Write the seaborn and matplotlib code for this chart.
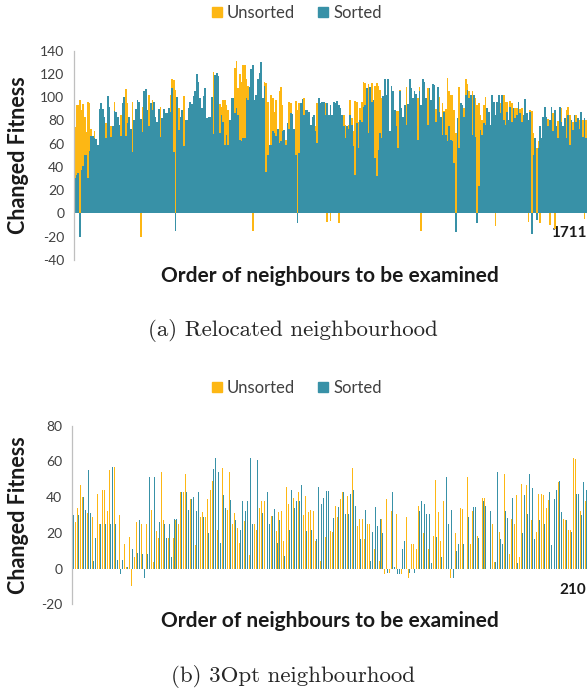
import matplotlib
matplotlib.use('Agg')
import matplotlib.pyplot as plt
from matplotlib.patches import Patch
import seaborn as sns
import pandas as pd

# colours (Excel-like)
UNSORTED_C = '#FDB714'
SORTED_C = '#3891A7'

# ---------- (a) Relocated neighbourhood: 1711 neighbours, read as 311 samples ----------
top_sorted = [
    30.6, 33, 35, -20, 37, 40.6, 50.6, 50.6, 30.6, 54, 67, 67, 65, 64, 59, 90, 95, 90, 83, 65,
    101, 92, 66, 75, 88, 87, 83, 76, 67, 95, 100.6, 67, 77.7, 83, 73, 53, 80.6, 90, 97.7, 96,
    81, 70, 105, 107, 89, 75, 95, 89, 95.7, 83, 79, 90, 66, 82, 90, 86, 86, 91, 87, 108,
    53, -15, 100.6, 72, 83, 89, 57.7, 80.6, 80.6, 90.6, 96, 94, 101, 105, 119.7, 113, 99,
    90.6, 101, 108, 82, 83, 83, 100.6, 68, 119, 121, 118.6, 69, 85, 79, 59, 67.7, 59, 80.6, 99, 99,
    86, 90.6, 85, 63, 62, 65, 65, 99, 97.7, 109, 124, 128, 97.7, 102, 115.7, 121, 130.6, 99, 110, 36,
    50.6, 58.6, 58.6, 70.6, 69, 67, 73, 60.6, 62, 70.6, 72, 58.6, 77.7, 73, 86, 85.4, 73, 50.6, -8, 52,
    95, 98.6, 85, 89, 89, 87.7, 76, 83, 85, 70.6, 60.6, 99, 95, 95.7, 96, 85, 95, 85,
    93.4, 85, 96, 95, 97, 93.4, 91, 85, 75, 65, 75, 73, 85, 76, 57.7, 33, 77.7, 56, 80.6, 79,
    92, 93, 107.7, 69, 109, 96, 97.7, 47.7, 32, 55, 69, 65, 101, 116, 102, 116, 70.6, 110, 105, 89,
    75, 56, 105, 90.6, 83, 93.4, 75.7, 94, 116, 107.7, 99, 105, 103, 63.4, 105, 93.4, 115.7, 113, 99, 76,
    107.7, 97.7, 111, 110.6, 79, 109, 87.7, 83, 67.7, 87.7, 67.7, 62, 75, 63.4, 62, 43.4, -16, 82,
    56, 95, 93.4, 83, 102, 106, 99, 102, 67.7, 102, 66, -8, 23.4, 72, 67.7, 77.7, 76, 90.6, 87.7, 76,
    102, 96, 85, 96, 102, 86, 102, 80.6, 76, 87.7, 80.6, 92, 79, 90.6, 82, 85, 96, 86, 79, 85,
    98.6, 86, 80.6, 87.7, -18, 50.6, 65, -6, 56, 75, 65, 82.6, 92, 83, 75, 80.6, 92, 70.6, 89, 75,
    65, 92, 79, 75, 82, 65, 85, 59, 80.6, 72, 85, 79, 82, 73, 87.7, 66, 82, 65,
]
top_unsorted = [
    74, 93, 93, 98, 89, 94, 83, 70, 95.7, 95, 73, 62, 71, 58, 55, 84, 88, 80, 78, 77.7,
    96, 85, 75, 70, 96, 80, 76, 70, 85, 90, 94, 107, 95, 79, 73, 95.7, 75, 84, 92, 90,
    -20, 92, 100, 99, 84, 102, 90, 97.7, 90, 78, 74, 85, 92, 78, 84, 80, 82, 86, 102, 116,
    115, 106, 95, 90.6, 78, 84, 101, 78, 76, 86, 90, 88, 96, 100, 112, 108, 94,
    85, 96, 102, 80, 78, 78, 96, 122, 113, 116, 112, 94, 92, 97.7, 97.7, 93, 89, 76, 94, 99,
    125, 131, 108, 119.7, 113, 128, 128, 116, 110, 104, 118, -15, 92, 96, 110, 115, 124, 94, 113, 112,
    96, 58, 102, 99.7, 87.7, 97.7, 68, 105, 109, 93, 68, 63, 73, 96, 95, 80, 68, 96.9, 89, 95,
    88, 93, 99, 84, 84, 82, 75, 78, 80, 75, 95, 94, 90, 90, 91, 95, -7, 80,
    -6.6, 82, 91, 90, 92, -8, 86, 80, 85, 76, 70, 76, 97.7, 82, 71, 96.9, 96, 79, 91, 95.7,
    113, 112, 102, 111, 104, 112, 97, 110, 112, 110, 106, 99, 96, 110, 97, 110, 66, 104, 100, 84,
    88, 88, 106, 86, 78, 88, 109, 89, 110, 102, 94, 100, 98, 99, 109, -15, 110, 108, 94, 107.7,
    102, 92, 106, 105, 90, 104, 100.6, 78, 95, 88, 90, 116.9, 105, 102, 102, 89, 69, 77,
    109, 90, 88, 90.6, 115.7, 111, 105, 97, 105, 97, 99, 93.4, 95, 85, 80.6, 93, 100.6, 86, 82, 72,
    97, 91, -10.6, 91, 97, 95, 102, 102, 96, 96, 76, 96.9, 95, 86, 91, 91, 91, 90, 90.6, 80,
    94, 82, -7, 89, 88, 69, 60, 56, 62, -8, 60, 78, 87, 78, 81.4, -10, 87, 86, -13, 70,
    79.7, 87, 90.6, 70, 77, 89, 92, 85, 76, 79, 85, 85, 77, 80.6, 87, 80.6, -5, 80,
]
top_last_label = '1711'

# ---------- (b) 3Opt neighbourhood: 210 neighbours ----------
bot_unsorted = [
    43, 26, 34, 47, 40, 35, 31, 55, 29, 35, 42, 24.7, 44, 44, 32, 55, 55, 57, -3, 30,
    3.5, 14, 1, 17.5, -9.5, 6.5, 26, 51, 25, 33, 25, 32, 33, 3.5, 21, 17, 54, 27, 30, 17,
    27, 17, 27, 25, 43, 43, 53, 47, 39, 32, 13, 20, 29,
    31.6, 29, 39, 44, 49, 29.5, 21.7, 20, 56.5, 62, 33, 54, 25, 31, 22.8, 14.6, 27, 26.6, 44, 7.5,
    35, 24.7, 21.7, 33.7, 37.8, 37.8, 0, 12, 29.5, 29.5, 21.3, 31.6, 32, 15.7, 45.6, 36, 28.4, 39.6, 43, 43,
    0, 30, 40.4, 31.6, 33, 32, 15.7, 0, 4, 4, 17.5, 17.5, 21,
    20.4, 34.8, 29, 39, 42.6, 35.3, 40.4, 56.5, 56.5, 40, 24, 27.9, 27.9, 16.6, 24.7, 24.7, 25, 11, 29, 4.5,
    27.9, -3, 39, -2.6, 32, 38, 30.7, 5, -3, 5, 29, -5, 13.8, 13.8, 11, 34.8, 34.8, 20, 27, 10.8,
    27, 18, 49.7, 31.6, 15.7, 37.8, 0, 0, -5, 8, 20, 51, 33.7,
    33.5, 0, 51, 13.5, 32.5, 28.8, 18, 15.7, 39.6, 39.6, 0, 0, 24.7, 3.5, 20.4, 20.4, 30.7, 53, 45.2, 8.2,
    27.9, 24.7, 41, 6.4, 47.5, 53, 47, 13, 27, 27, 20.4, 42, 42, 41, 34, 38.5, 24, 0, 0, 48.4,
    44, 27.7, 27.3, 21.7, 21.7, 62, 61.5, 37.8, 32, 32, 37.8,
]
bot_sorted = [
    30, 30, 30, 26, 40, 33, 55, 31, 4, 17, 17, 24.7, 16, 25, 40, 25, 57, 25, 5, -3,
    5, 26, 1, 26, 11, 27, 9, 27, 8, -5.5, 8, 51, 34, 51, 15, 26, 25, 25, 17, 25,
    6.5, 28, 28, 24, 43, 47, 43, 33, 39, 40, 32, 43, 15,
    29, 21, 20, 29, 56, 62, 54, 14.6, 41, 34, 30, 38.5, 24, 27, 21.7, 21.7, 37.8, 32, 37.8, 62,
    25, 55, 61, 18.5, 31, 22.8, 42.6, 25, 29.5, 33.5, 14.6, 27, 26.6, 7, 24.7, 21.7, 44, 33.8, 37.8, 37.8,
    46.7, 25, 21.3, 32, 21.7, 28, 16.6, 45.6, 36, 39.6, 43.4, 43.4, 28.4,
    28.4, 32.5, 34.4, 29, 42.6, 30.7, 30.3, 41.5, 43.8, 35, 43.8, 16.6, 22, 33, 32, 4, 20.6, 34.4, 24, 27.9,
    20, 27.9, -2.6, 42.6, 42.6, 1, -3, -3, 11, 15.7, 9.7, -2.6, -2.6, -2.6, 4.5, 32, 38, 36, 30.7, 30.3,
    3.4, 14, 17.5, -9.5, 6.7, 1, 51, 24.7, 33, -5, 10, 14, 20,
    13.8, 13.8, 29, 11, 34.4, 34.4, 17.2, 0, 37.8, 35.3, 49.7, 32.5, 16.6, 3.5, 54, 16.6, 13.5, 32.5, 28.4, 17,
    39.6, 39.6, 3, 19.8, 19.8, 41, 30.7, 53, 45.2, 16.8, 27, 27, 16, 25, 42.6, 42.6, 13, 39, 44, 49,
    31.6, 13, 27, 24, 20.4, 55, 42, 41.5, 30, 48.4, 44,
]
bot_last_label = '210'

sns.set_style('white')
plt.rcParams['font.family'] = ['Lato', 'DejaVu Sans']
plt.rcParams['axes.unicode_minus'] = False

W, H = 587, 695
fig = plt.figure(figsize=(W / 100, H / 100), dpi=100)

# axes placed from pixel measurements of the reference
ax1 = fig.add_axes([74 / W, (H - 260) / H, (587 - 74) / W, (260 - 50.7) / H])
ax2 = fig.add_axes([72 / W, (H - 604.3) / H, (587 - 72) / W, (604.3 - 425.7) / H])

palette = {'Unsorted': UNSORTED_C, 'Sorted': SORTED_C}
order = ['Unsorted', 'Sorted']


def long_frame(unsorted, sorted_):
    n = len(unsorted)
    return pd.DataFrame({
        'pos': list(range(n)) * 2,
        'fitness': list(unsorted) + list(sorted_),
        'order': ['Unsorted'] * n + ['Sorted'] * n,
    })


# (a) overlapping bars, sorted drawn on top of unsorted
df_top = long_frame(top_unsorted, top_sorted)
sns.barplot(data=df_top, x='pos', y='fitness', hue='order', hue_order=order,
            palette=palette, dodge=False, width=1.0, saturation=1,
            errorbar=None, linewidth=0, legend=False, ax=ax1)
for p in ax1.patches:
    p.set_antialiased(False)

# (b) thin side-by-side bars
df_bot = long_frame(bot_unsorted, bot_sorted)
sns.barplot(data=df_bot, x='pos', y='fitness', hue='order', hue_order=order,
            palette=palette, dodge=True, width=0.6, saturation=1,
            errorbar=None, linewidth=0, legend=False, ax=ax2)


def style_axis(ax, n, ylim, yticks, last_label, pad, ylab_xy, xlab_xy):
    ax.set_xlim(-0.5, n - 0.5)
    ax.set_ylim(*ylim)
    ax.set_yticks(yticks)
    ax.set_yticklabels([str(t) for t in yticks])
    sns.despine(ax=ax)
    ax.spines['left'].set_color('#BFBFBF')
    ax.spines['left'].set_linewidth(0.9)
    ax.spines['bottom'].set_position(('data', 0))
    ax.spines['bottom'].set_visible(False)
    ax.tick_params(axis='y', length=4, width=0.9, color='#BFBFBF',
                   labelcolor='#404040', labelsize=10, pad=3)
    ax.set_xticks([n - 1])
    ax.set_xticklabels([last_label], fontsize=11, fontweight='bold',
                       color='#1a1a1a', ha='right')
    ax.tick_params(axis='x', length=0, pad=pad)
    ax.set_ylabel('Changed Fitness', fontsize=15.5, fontweight='bold',
                  color='#1a1a1a', va='center')
    ax.yaxis.set_label_coords(*ylab_xy)
    ax.set_xlabel('Order of neighbours to be examined', fontsize=15,
                  fontweight='bold', color='#1a1a1a', va='center')
    ax.xaxis.set_label_coords(*xlab_xy)


style_axis(ax1, len(top_sorted), (-40, 140), list(range(-40, 141, 20)),
           top_last_label, 9, (-0.108, 0.5), (0.499, -0.076))
style_axis(ax2, len(bot_sorted), (-20, 80), list(range(-20, 81, 20)),
           bot_last_label, 10.5, (-0.104, 0.5), (0.501, -0.094))

handles = [Patch(color=UNSORTED_C, label='Unsorted'),
           Patch(color=SORTED_C, label='Sorted')]
for ax, ypix in [(ax1, 13), (ax2, 388)]:
    ax.legend(handles=handles, loc='center', ncol=2, frameon=False,
              bbox_to_anchor=(297 / W, (H - ypix) / H),
              bbox_transform=fig.transFigure, fontsize=12,
              handlelength=0.6, handleheight=0.6, handletextpad=0.3,
              columnspacing=1.4, labelcolor='#404040')

fig.text(293 / W, (H - 331) / H, '(a) Relocated neighbourhood',
         family='cmr10', fontsize=16.5, ha='center', va='center')
fig.text(293 / W, (H - 676) / H, '(b) 3Opt neighbourhood',
         family='cmr10', fontsize=16.5, ha='center', va='center')

fig.savefig('out.png', dpi=100)
